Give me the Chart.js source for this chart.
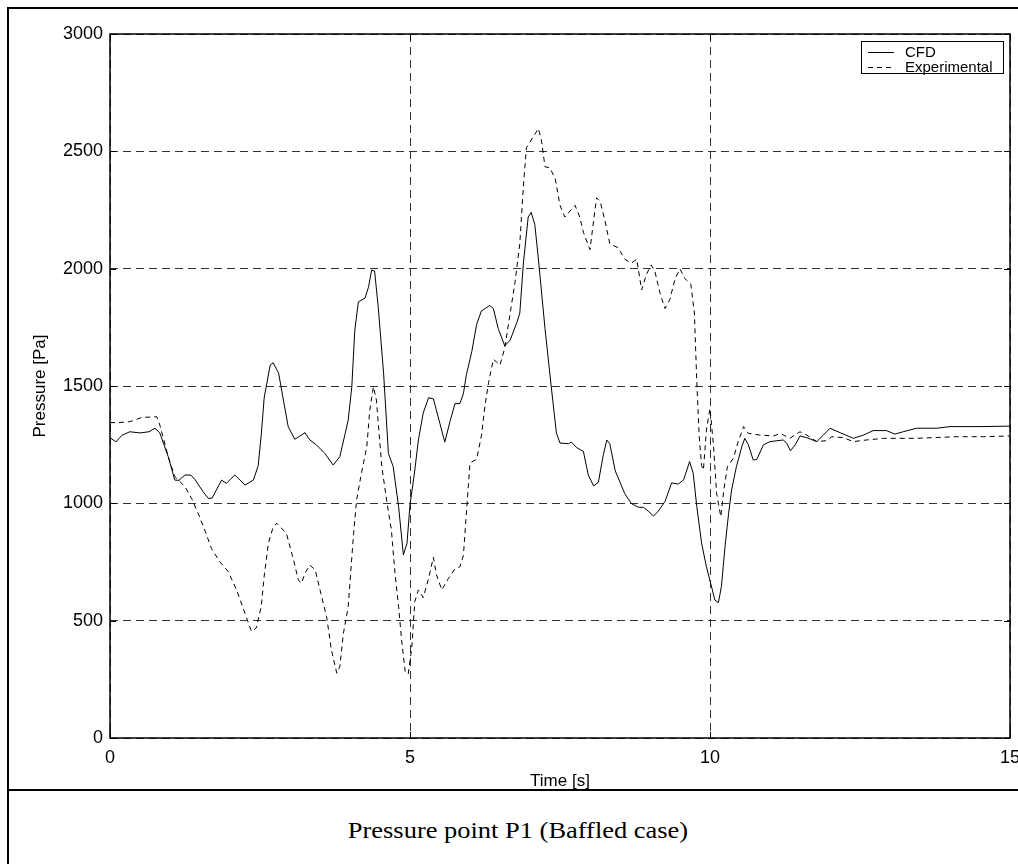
<!DOCTYPE html>
<html>
<head>
<meta charset="utf-8">
<title>Pressure point P1</title>
<script src="https://cdn.jsdelivr.net/npm/chart.js@4.4.1/dist/chart.umd.min.js"></script>
<style>
  html, body { margin: 0; padding: 0; background: #fff; overflow: hidden; }
  #frame { position: absolute; left: 7px; top: 7px; width: 1100px; height: 900px; border: 2px solid #000; }
  #rule { position: absolute; left: 7px; top: 789px; width: 1100px; height: 2px; background: #000; }
  #chartBox { position: absolute; left: 0; top: 0; width: 1040px; height: 790px; }
  #caption { position: absolute; left: 0; top: 818px; width: 1036px; text-align: center;
             font: 23px "Liberation Serif", "Times New Roman", serif; line-height: 26px; color: #000;
             transform: scaleX(1.15); transform-origin: 518px 0; }
</style>
</head>
<body>
<div id="frame"></div>
<div id="chartBox"><canvas id="pressureChart" width="1040" height="790"></canvas></div>
<div id="rule"></div>
<div id="caption">Pressure point P1 (Baffled case)</div>
<script>
// CFD result, time [s] / pressure [Pa]
const cfdTime = [0.00, 0.10, 0.20, 0.33, 0.50, 0.65, 0.75, 0.83, 0.97, 1.08, 1.15, 1.25, 1.35, 1.42, 1.55, 1.64, 1.70,
  1.86, 1.94, 2.08, 2.25, 2.39, 2.47, 2.52, 2.57, 2.67, 2.72, 2.81, 2.89, 2.97, 3.08, 3.25, 3.33, 3.44, 3.58, 3.72,
  3.83, 3.92, 3.97, 4.03, 4.08, 4.14, 4.25, 4.31, 4.36, 4.41, 4.47, 4.56, 4.64, 4.72, 4.81, 4.89, 4.95, 5.00, 5.07,
  5.14, 5.22, 5.31, 5.39, 5.47, 5.58, 5.67, 5.75, 5.83, 5.89, 5.94, 6.03, 6.11, 6.19, 6.33, 6.39, 6.47, 6.58, 6.67,
  6.78, 6.83, 6.89, 6.97, 7.02, 7.08, 7.14, 7.25, 7.36, 7.44, 7.50, 7.64, 7.69, 7.78, 7.89, 7.97, 8.06, 8.14, 8.22,
  8.28, 8.33, 8.42, 8.50, 8.58, 8.69, 8.81, 8.89, 8.97, 9.06, 9.14, 9.25, 9.36, 9.47, 9.56, 9.66, 9.72, 9.78, 9.86,
  9.94, 10.03, 10.08, 10.14, 10.19, 10.25, 10.31, 10.36, 10.44, 10.53, 10.58, 10.64, 10.72, 10.78, 10.89, 11.00,
  11.22, 11.28, 11.34, 11.42, 11.50, 11.61, 11.78, 11.89, 12.00, 12.17, 12.39, 12.56, 12.72, 12.94, 13.08, 13.22,
  13.44, 13.78, 14.00, 14.50, 15.00];
const cfdPressure = [1280, 1262, 1290, 1305, 1300, 1305, 1320, 1300, 1199, 1099, 1098, 1121, 1120, 1100, 1050, 1021, 1022,
  1099, 1085, 1121, 1078, 1099, 1160, 1290, 1450, 1589, 1599, 1555, 1440, 1327, 1273, 1301, 1270, 1249, 1213, 1163,
  1199, 1298, 1355, 1497, 1738, 1859, 1874, 1923, 1994, 1990, 1838, 1554, 1213, 1156, 986, 780, 830, 995, 1120,
  1270, 1385, 1450, 1445, 1368, 1261, 1352, 1425, 1425, 1467, 1548, 1647, 1762, 1820, 1843, 1830, 1745, 1671, 1696,
  1770, 1811, 2024, 2220, 2240, 2188, 2041, 1745, 1483, 1300, 1257, 1254, 1261, 1237, 1221, 1122, 1074, 1090, 1204,
  1270, 1254, 1139, 1090, 1041, 999, 983, 983, 967, 946, 967, 1008, 1087, 1082, 1100, 1178, 1128, 986, 830,
  730, 640, 588, 577, 645, 815, 957, 1057, 1156, 1241, 1277, 1249, 1185, 1187, 1249, 1263,
  1270, 1256, 1224, 1249, 1287, 1280, 1263, 1291, 1320, 1301, 1277, 1291, 1310, 1310, 1295, 1305,
  1320, 1320, 1327, 1327, 1329];

// Experimental measurement, time [s] / pressure [Pa]
const expTime = [0.00, 0.14, 0.33, 0.53, 0.78, 0.83, 0.89, 0.97, 1.08, 1.25, 1.36, 1.47, 1.58, 1.69, 1.83, 1.97, 2.11,
  2.25, 2.36, 2.44, 2.52, 2.57, 2.64, 2.72, 2.78, 2.94, 3.06, 3.14, 3.19, 3.25, 3.33, 3.42, 3.50, 3.61, 3.69, 3.78,
  3.83, 3.89, 3.97, 4.06, 4.11, 4.19, 4.28, 4.33, 4.39, 4.44, 4.53, 4.61, 4.69, 4.75, 4.81, 4.86, 4.92, 4.97, 5.03,
  5.08, 5.14, 5.22, 5.31, 5.39, 5.44, 5.53, 5.64, 5.75, 5.83, 5.89, 5.94, 6.00, 6.11, 6.19, 6.25, 6.31, 6.39, 6.50,
  6.58, 6.67, 6.75, 6.83, 6.89, 6.94, 7.06, 7.14, 7.19, 7.25, 7.33, 7.42, 7.50, 7.58, 7.75, 7.83, 7.89, 8.00, 8.06,
  8.11, 8.17, 8.25, 8.33, 8.47, 8.58, 8.69, 8.78, 8.86, 8.94, 9.02, 9.08, 9.17, 9.25, 9.33, 9.42, 9.50, 9.58, 9.68,
  9.74, 9.78, 9.82, 9.86, 9.89, 9.94, 10.00, 10.06, 10.11, 10.18, 10.23, 10.29, 10.39, 10.47, 10.56, 10.64, 10.83,
  11.06, 11.17, 11.33, 11.50, 11.61, 11.78, 11.94, 12.03, 12.22, 12.39, 12.61, 12.89, 13.44, 14.11, 14.56, 15.00];
const expPressure = [1344, 1344, 1348, 1366, 1369, 1334, 1277, 1199, 1114, 1071, 1021, 957, 886, 808, 751, 709, 631,
  531, 453, 470, 560, 690, 830, 900, 915, 872, 758, 673, 659, 702, 737, 716, 631, 517, 375, 276,
  304, 446, 560, 872, 1014, 1128, 1241, 1398, 1497, 1440, 1156, 1014, 886, 702, 560, 418, 283, 272, 385,
  582, 631, 598, 680, 770, 696, 631, 680, 721, 729, 778, 959, 1172, 1188, 1287, 1417, 1516, 1614, 1589,
  1663, 1811, 1942, 2106, 2352, 2515, 2565, 2597, 2548, 2434, 2430, 2384, 2270, 2220, 2270, 2220, 2155, 2081, 2204,
  2302, 2286, 2204, 2106, 2089, 2040, 2024, 2040, 1909, 1975, 2016, 1990, 1893, 1830, 1868, 1958, 1999, 1958, 1934,
  1811, 1516, 1287, 1160, 1142, 1312, 1405, 1241, 1043, 943, 1057, 1156, 1192, 1263, 1327, 1298, 1291,
  1287, 1298, 1277, 1305, 1291, 1263, 1267, 1284, 1280, 1263, 1270, 1277, 1277, 1284, 1284, 1287];

const timeTicks = [0, 5, 10, 15];
const pressureTicks = [0, 500, 1000, 1500, 2000, 2500, 3000];
const seriesNames = ['CFD', 'Experimental'];

const FONT = '"Liberation Sans", Arial, Helvetica, sans-serif';

function toPoints(xs, ys) {
  return xs.map((x, i) => ({ x: x, y: ys[i] }));
}

// box around the plot plus small inward ticks on every side (matlab style)
const plotFrame = {
  id: 'plotFrame',
  afterDatasetsDraw(chart) {
    const { ctx, chartArea: a, scales } = chart;
    ctx.save();
    ctx.strokeStyle = '#000';
    ctx.lineWidth = 1.5;
    ctx.setLineDash([]);
    ctx.strokeRect(a.left, a.top, a.right - a.left, a.bottom - a.top);
    ctx.lineWidth = 1;
    ctx.beginPath();
    scales.y.ticks.forEach(t => {
      const py = Math.round(scales.y.getPixelForValue(t.value)) + 0.5;
      ctx.moveTo(a.left, py); ctx.lineTo(a.left + 6, py);
      ctx.moveTo(a.right, py); ctx.lineTo(a.right - 6, py);
    });
    scales.x.ticks.forEach(t => {
      const px = Math.round(scales.x.getPixelForValue(t.value)) + 0.5;
      ctx.moveTo(px, a.bottom); ctx.lineTo(px, a.bottom - 6);
      ctx.moveTo(px, a.top); ctx.lineTo(px, a.top + 6);
    });
    ctx.stroke();
    ctx.restore();
  }
};

// boxed legend in the upper right corner of the plot
const cornerLegend = {
  id: 'cornerLegend',
  afterDraw(chart) {
    const { ctx, chartArea: a } = chart;
    const w = 142, h = 32;
    const x0 = a.right - 7 - w, y0 = a.top + 7;
    ctx.save();
    ctx.fillStyle = '#fff';
    ctx.fillRect(x0, y0, w, h);
    ctx.strokeStyle = '#000';
    ctx.lineWidth = 1;
    ctx.setLineDash([]);
    ctx.strokeRect(x0 + 0.5, y0 + 0.5, w, h);
    ctx.font = '15px ' + FONT;
    ctx.textBaseline = 'middle';
    ctx.fillStyle = '#000';
    chart.data.datasets.forEach((ds, i) => {
      const cy = y0 + 11 + i * 15;
      ctx.setLineDash(ds.borderDash || []);
      ctx.beginPath();
      ctx.moveTo(x0 + 7, cy + 0.5);
      ctx.lineTo(x0 + 33, cy + 0.5);
      ctx.stroke();
      ctx.setLineDash([]);
      ctx.fillText(ds.label, x0 + 44, cy + 1);
    });
    ctx.restore();
  }
};

new Chart(document.getElementById('pressureChart'), {
  type: 'line',
  data: {
    datasets: [
      {
        label: seriesNames[0],
        data: toPoints(cfdTime, cfdPressure),
        borderColor: '#000',
        borderWidth: 1,
        pointRadius: 0,
        tension: 0
      },
      {
        label: seriesNames[1],
        data: toPoints(expTime, expPressure),
        borderColor: '#000',
        borderWidth: 1,
        borderDash: [5, 4],
        pointRadius: 0,
        tension: 0
      }
    ]
  },
  options: {
    responsive: false,
    animation: false,
    layout: { padding: { left: 0, top: 34, right: 30, bottom: 0 } },
    plugins: {
      legend: { display: false },
      tooltip: { enabled: false }
    },
    scales: {
      x: {
        type: 'linear',
        min: 0,
        max: 15,
        afterBuildTicks: s => { s.ticks = timeTicks.map(v => ({ value: v })); },
        afterFit: s => { s.height = 52; },
        grid: { color: '#333', lineWidth: 1, drawTicks: false },
        border: { display: false, dash: [8, 5] },
        ticks: { color: '#000', padding: 9, maxRotation: 0, font: { family: FONT, size: 18 },
                 callback: v => String(v) },
        title: { display: true, text: 'Time [s]', color: '#000', padding: { top: 0, bottom: 0 },
                 font: { family: FONT, size: 17, lineHeight: 1 } }
      },
      y: {
        min: 0,
        max: 3000,
        afterBuildTicks: s => { s.ticks = pressureTicks.map(v => ({ value: v })); },
        afterFit: s => { s.width = 110; },
        grid: { color: '#333', lineWidth: 1, drawTicks: false },
        border: { display: false, dash: [8, 5] },
        ticks: { color: '#000', padding: 7, font: { family: FONT, size: 18 },
                 callback: v => String(v) },
        title: { display: true, text: 'Pressure [Pa]', color: '#000', padding: { top: 30, bottom: 0 },
                 font: { family: FONT, size: 17 } }
      }
    }
  },
  plugins: [plotFrame, cornerLegend]
});
</script>
</body>
</html>
